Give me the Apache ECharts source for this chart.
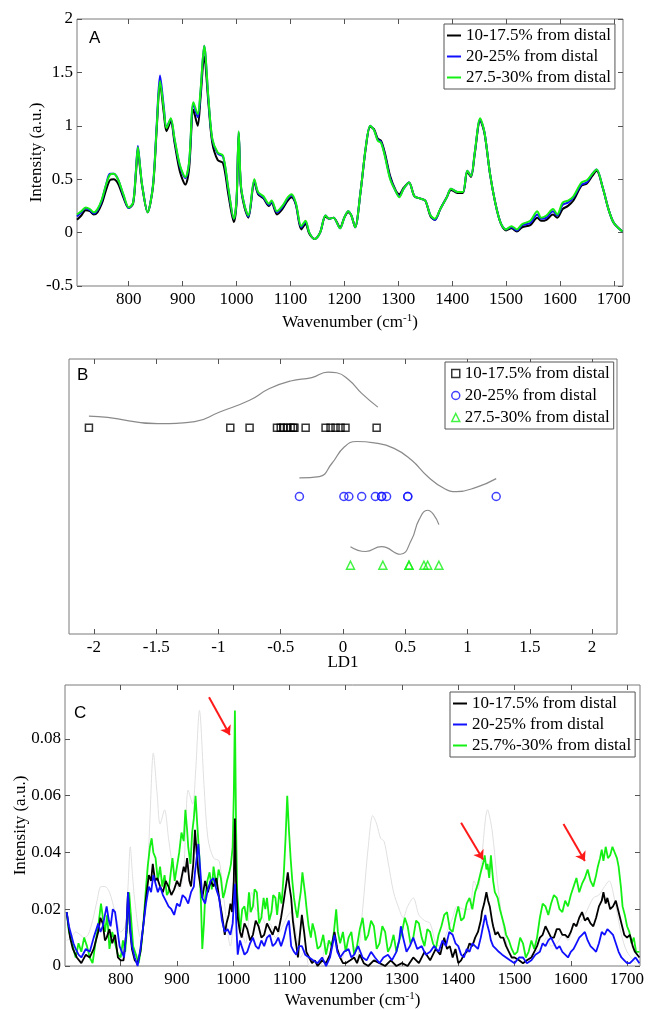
<!DOCTYPE html>
<html><head><meta charset="utf-8">
<script src="https://cdn.jsdelivr.net/npm/echarts@6/dist/echarts.min.js"></script>
<style>html,body{margin:0;padding:0;background:#fff}#c{width:649px;height:1010px}</style>
</head><body><div id="c"></div>
<script>
// ---------- labels ----------
const namesAB = ['10-17.5% from distal', '20-25% from distal', '27.5-30% from distal'];
const namesC = ['10-17.5% from distal', '20-25% from distal', '25.7%-30% from distal'];
const xTicksSpec = [800, 900, 1000, 1100, 1200, 1300, 1400, 1500, 1600, 1700];
const xTicksLD = [-2, -1.5, -1, -0.5, 0, 0.5, 1, 1.5, 2];
const yTicksA = [-0.5, 0, 0.5, 1, 1.5, 2];
const yTicksC = [0, 0.02, 0.04, 0.06, 0.08];

// ---------- Panel A: mean spectra ----------
const wnA = [704,712,720,728,735,742,750,758,765,772,780,790,800,808,813,817,821,825,835,845,852,858,865,870,878,885,895,905,912,920,928,933,940,948,955,965,975,985,995,1000,1004,1008,1015,1022,1033,1040,1050,1060,1065,1075,1085,1095,1102,1110,1120,1128,1135,1145,1155,1165,1172,1180,1192,1200,1207,1213,1220,1230,1240,1248,1255,1262,1268,1275,1285,1295,1302,1310,1320,1330,1340,1350,1360,1368,1378,1390,1398,1410,1420,1428,1435,1442,1452,1460,1470,1480,1490,1500,1510,1520,1530,1545,1558,1565,1575,1587,1595,1605,1615,1625,1640,1650,1660,1668,1680,1690,1700,1716];
const blackA = [0.12,0.16,0.21,0.20,0.17,0.19,0.27,0.40,0.49,0.50,0.46,0.33,0.23,0.27,0.53,0.78,0.60,0.43,0.19,0.43,0.98,1.40,1.12,0.95,1.04,0.84,0.57,0.45,0.60,1.15,1.00,1.25,1.65,1.20,0.84,0.68,0.65,0.35,0.10,0.28,0.93,0.43,0.23,0.14,0.47,0.36,0.32,0.25,0.28,0.17,0.22,0.30,0.33,0.26,0.03,0.08,-0.01,-0.06,0.0,0.15,0.13,0.14,0.05,0.14,0.19,0.16,0.05,0.38,0.80,0.99,0.97,0.88,0.86,0.75,0.53,0.40,0.36,0.42,0.47,0.34,0.32,0.30,0.15,0.12,0.22,0.33,0.40,0.37,0.37,0.57,0.52,0.74,1.05,0.93,0.56,0.28,0.09,0.02,0.04,0.01,0.05,0.07,0.14,0.11,0.12,0.17,0.14,0.22,0.25,0.30,0.44,0.46,0.53,0.58,0.41,0.22,0.09,0.01];
const blueA = [0.15,0.19,0.23,0.21,0.18,0.21,0.30,0.45,0.55,0.55,0.50,0.35,0.23,0.28,0.56,0.81,0.62,0.44,0.19,0.45,1.02,1.47,1.18,0.99,1.06,0.87,0.62,0.51,0.65,1.20,1.08,1.30,1.75,1.24,0.87,0.74,0.71,0.40,0.13,0.30,0.94,0.44,0.25,0.15,0.49,0.37,0.33,0.26,0.29,0.19,0.24,0.32,0.35,0.27,0.05,0.10,0.0,-0.06,0.0,0.16,0.13,0.14,0.04,0.14,0.20,0.16,0.05,0.38,0.81,1.0,0.96,0.87,0.85,0.73,0.51,0.39,0.34,0.41,0.47,0.34,0.32,0.30,0.16,0.12,0.22,0.33,0.41,0.38,0.38,0.58,0.53,0.75,1.06,0.94,0.56,0.28,0.09,0.03,0.05,0.02,0.07,0.09,0.17,0.13,0.14,0.20,0.16,0.26,0.28,0.33,0.45,0.47,0.55,0.59,0.41,0.22,0.09,0.01];
const greenA = [0.17,0.20,0.235,0.22,0.19,0.22,0.31,0.45,0.54,0.55,0.50,0.36,0.235,0.28,0.55,0.80,0.62,0.44,0.19,0.44,1.00,1.42,1.16,0.98,1.07,0.88,0.63,0.52,0.66,1.22,1.11,1.32,1.75,1.25,0.88,0.75,0.72,0.41,0.13,0.31,0.95,0.45,0.25,0.16,0.50,0.38,0.34,0.27,0.30,0.20,0.25,0.33,0.36,0.28,0.06,0.11,0.0,-0.06,0.0,0.16,0.13,0.14,0.04,0.14,0.20,0.16,0.05,0.38,0.81,1.0,0.96,0.86,0.84,0.72,0.50,0.39,0.33,0.41,0.47,0.34,0.32,0.30,0.16,0.13,0.22,0.33,0.41,0.38,0.38,0.58,0.53,0.75,1.07,0.94,0.56,0.28,0.09,0.03,0.06,0.03,0.08,0.11,0.20,0.14,0.16,0.22,0.17,0.28,0.30,0.34,0.47,0.49,0.55,0.59,0.41,0.22,0.09,0.01];

// ---------- Panel B: LD1 scores and density curves ----------
const ld1Black = [-2.04,-0.905,-0.75,-0.53,-0.50,-0.48,-0.45,-0.42,-0.40,-0.39,-0.30,-0.14,-0.10,-0.06,-0.02,0.02,0.27];
const ld1Blue = [-0.35,0.007,0.047,0.15,0.26,0.31,0.31,0.35,0.52,0.52,1.23];
const ld1Green = [0.06,0.32,0.53,0.53,0.65,0.68,0.77];
const rowBlack = 3, rowBlue = 2, rowGreen = 1;
const kdeBlackX = [-2.04,-1.89,-1.49,-1.19,-0.99,-0.75,-0.59,-0.42,-0.25,-0.12,-0.05,0.05,0.15,0.28];
const kdeBlackY = [3.17,3.15,3.06,3.09,3.23,3.40,3.57,3.68,3.73,3.81,3.80,3.69,3.50,3.30];
const kdeBlueX = [-0.35,-0.19,-0.09,0.01,0.11,0.25,0.41,0.55,0.68,0.81,0.91,1.08,1.23];
const kdeBlueY = [2.27,2.29,2.48,2.72,2.80,2.78,2.70,2.53,2.29,2.12,2.07,2.14,2.26];
const kdeGreenX = [0.06,0.18,0.31,0.46,0.55,0.61,0.68,0.73,0.77];
const kdeGreenY = [1.27,1.20,1.27,1.16,1.37,1.66,1.80,1.73,1.59];

// ---------- Panel C: difference spectra (wavenumber, intensity pairs) ----------
const specCgreen = [704,.019,708,.012,712,.0096,716,.006,720,.003,725,.008,730,.005,735,.010,740,.007,745,.003,750,.001,755,.008,760,.014,765,.022,769,.016,772,.012,776,.018,780,.006,785,.012,790,.008,795,.004,800,.003,804,.009,808,.005,812,.015,815,.026,818,.018,822,.007,827,.004,832,.001,836,.006,840,.014,844,.025,848,.035,852,.042,855,.045,858,.040,862,.038,866,.030,870,.035,874,.028,878,.032,882,.025,885,.026,889,.033,892,.038,896,.030,900,.035,904,.040,908,.047,912,.044,915,.055,918,.048,920,.042,924,.036,927,.047,930,.052,933,.060,936,.050,940,.038,943,.020,945,.006,948,.015,950,.024,954,.030,958,.033,962,.027,965,.035,968,.031,970,.028,974,.034,978,.031,982,.024,985,.026,989,.030,993,.033,996,.036,999,.042,1001,.060,1003,.090,1005,.050,1007,.026,1010,.018,1012,.012,1016,.020,1020,.021,1024,.016,1028,.026,1031,.019,1035,.021,1038,.027,1042,.026,1046,.015,1050,.017,1054,.024,1057,.020,1060,.024,1064,.016,1068,.019,1071,.025,1075,.024,1078,.018,1082,.026,1086,.022,1090,.033,1093,.045,1096,.060,1099,.048,1102,.038,1105,.030,1108,.024,1111,.020,1114,.017,1117,.022,1120,.026,1123,.033,1125,.033,1128,.025,1130,.021,1134,.014,1138,.010,1141,.015,1145,.012,1150,.006,1155,.007,1160,.011,1165,.004,1170,.009,1175,.007,1179,.012,1183,.020,1186,.012,1190,.008,1195,.012,1200,.005,1205,.010,1210,.012,1215,.004,1220,.007,1225,.013,1230,.017,1235,.009,1240,.011,1245,.016,1250,.014,1255,.006,1260,.008,1265,.014,1270,.012,1275,.005,1280,.007,1285,.011,1290,.005,1295,.009,1300,.012,1305,.017,1310,.014,1315,.008,1320,.010,1325,.016,1330,.015,1335,.010,1340,.007,1345,.013,1350,.012,1355,.008,1360,.006,1365,.011,1370,.014,1375,.018,1380,.019,1385,.013,1390,.012,1395,.017,1400,.021,1405,.016,1410,.017,1415,.022,1420,.024,1425,.020,1430,.026,1435,.029,1440,.033,1444,.036,1447,.039,1450,.034,1452,.036,1455,.031,1458,.039,1462,.030,1465,.026,1470,.024,1474,.020,1478,.017,1482,.014,1485,.011,1490,.009,1495,.006,1500,.004,1505,.005,1510,.010,1515,.008,1520,.003,1525,.005,1530,.009,1535,.006,1540,.010,1545,.017,1550,.022,1555,.021,1560,.018,1565,.022,1570,.025,1575,.024,1580,.020,1585,.019,1590,.023,1595,.021,1600,.025,1605,.028,1610,.031,1615,.026,1620,.029,1625,.031,1630,.034,1635,.030,1640,.028,1645,.032,1648,.035,1652,.038,1655,.041,1658,.037,1662,.042,1666,.038,1670,.039,1674,.042,1678,.040,1682,.038,1685,.035,1689,.028,1692,.021,1696,.018,1700,.014,1704,.012,1708,.008,1712,.010,1716,.005,1722,.005];
const specCblack = [704,.019,710,.010,715,.006,722,.003,730,.001,738,.004,745,.003,752,.006,760,.012,764,.017,768,.015,772,.009,775,.010,780,.013,785,.008,790,.011,795,.003,800,.002,805,.002,810,.012,813,.026,817,.012,820,.006,825,.002,830,.001,835,.005,840,.014,845,.024,850,.032,854,.030,857,.036,861,.030,865,.031,870,.028,875,.026,880,.030,885,.028,890,.025,895,.027,900,.030,905,.028,909,.032,912,.035,915,.033,918,.038,922,.030,925,.028,929,.036,932,.048,935,.040,938,.033,942,.028,945,.024,950,.030,955,.026,960,.030,965,.028,970,.031,975,.024,980,.018,985,.011,988,.015,992,.018,995,.022,998,.019,1001,.030,1003,.052,1005,.030,1008,.017,1012,.012,1015,.010,1020,.015,1025,.013,1030,.009,1035,.011,1040,.016,1045,.014,1050,.010,1055,.011,1060,.015,1065,.013,1070,.011,1075,.014,1080,.012,1085,.017,1089,.022,1092,.026,1095,.030,1097,.033,1100,.028,1103,.024,1106,.016,1110,.010,1113,.006,1115,.003,1118,.010,1122,.018,1126,.012,1130,.005,1135,.003,1140,.001,1145,.002,1150,.000,1158,.002,1165,.001,1172,.004,1180,.012,1185,.006,1190,.003,1195,.001,1200,.001,1208,.002,1215,.003,1220,.001,1225,.004,1232,.001,1240,.000,1250,.002,1260,.001,1270,.000,1280,.002,1290,.000,1300,.001,1310,.000,1320,.003,1330,.001,1340,.005,1350,.002,1360,.006,1368,.004,1375,.010,1380,.006,1385,.007,1390,.003,1395,.006,1400,.001,1405,.002,1410,.004,1415,.005,1420,.008,1425,.007,1430,.010,1435,.012,1440,.016,1442,.019,1446,.022,1450,.026,1453,.023,1456,.021,1460,.016,1462,.014,1466,.011,1470,.012,1475,.010,1480,.010,1485,.007,1490,.005,1495,.003,1500,.003,1508,.002,1515,.001,1522,.002,1530,.003,1535,.005,1540,.007,1545,.010,1550,.011,1555,.014,1560,.012,1565,.010,1570,.010,1575,.013,1580,.013,1585,.011,1590,.011,1595,.010,1600,.012,1605,.015,1610,.014,1615,.017,1620,.019,1625,.016,1630,.017,1635,.015,1640,.014,1645,.017,1650,.021,1655,.023,1658,.026,1662,.022,1665,.024,1670,.020,1675,.021,1680,.023,1685,.019,1690,.015,1695,.011,1700,.010,1705,.011,1710,.007,1714,.005,1722,.003];
const specCblue = [704,.019,708,.014,712,.011,716,.008,720,.006,725,.004,730,.003,738,.006,745,.005,752,.010,760,.015,764,.012,768,.014,772,.018,775,.021,779,.016,782,.014,786,.020,790,.019,794,.013,798,.007,802,.005,806,.003,810,.012,813,.026,816,.015,820,.007,825,.003,830,.000,835,.006,840,.014,845,.022,850,.028,854,.026,858,.032,862,.029,866,.026,870,.028,875,.025,880,.023,885,.021,890,.020,895,.018,900,.022,905,.021,910,.025,915,.024,920,.022,925,.026,930,.028,932,.033,935,.038,938,.043,941,.035,945,.024,950,.022,955,.027,960,.030,965,.031,970,.027,975,.024,980,.016,985,.012,990,.013,995,.011,999,.015,1003,.029,1006,.012,1008,.004,1012,.009,1015,.007,1020,.004,1025,.005,1030,.008,1035,.010,1040,.007,1045,.006,1050,.009,1055,.007,1060,.010,1065,.011,1070,.007,1075,.008,1080,.010,1085,.007,1090,.010,1095,.014,1099,.016,1103,.007,1108,.005,1112,.004,1117,.007,1122,.007,1128,.004,1135,.003,1142,.002,1150,.001,1158,.003,1165,.000,1172,.003,1180,.011,1185,.005,1190,.003,1197,.005,1205,.006,1210,.003,1215,.004,1222,.007,1230,.003,1237,.002,1245,.005,1252,.003,1260,.001,1267,.003,1275,.004,1282,.002,1290,.005,1295,.009,1298,.014,1302,.010,1308,.005,1314,.007,1320,.010,1327,.006,1335,.007,1342,.004,1350,.005,1357,.007,1365,.005,1372,.009,1378,.007,1384,.012,1390,.011,1395,.008,1400,.007,1405,.004,1410,.003,1415,.006,1420,.005,1425,.008,1430,.007,1435,.006,1440,.010,1444,.014,1448,.018,1451,.015,1455,.012,1458,.009,1462,.007,1467,.006,1472,.005,1478,.004,1485,.003,1492,.002,1500,.001,1508,.003,1515,.003,1522,.001,1530,.002,1537,.004,1545,.005,1550,.008,1555,.007,1560,.009,1565,.010,1570,.008,1575,.006,1580,.007,1585,.005,1590,.004,1595,.003,1600,.005,1605,.006,1610,.008,1615,.010,1620,.011,1625,.012,1630,.009,1635,.007,1640,.006,1645,.005,1650,.008,1655,.012,1660,.011,1665,.013,1670,.012,1675,.011,1680,.008,1685,.005,1690,.003,1695,.002,1700,.001,1705,.001,1710,.002,1715,.003,1722,.001];
const intCgray = [0.009,0.010,0.012,0.011,0.010,0.011,0.016,0.023,0.028,0.028,0.026,0.019,0.012,0.014,0.028,0.042,0.032,0.023,0.010,0.023,0.052,0.075,0.060,0.050,0.055,0.045,0.032,0.027,0.034,0.062,0.057,0.068,0.090,0.064,0.045,0.038,0.037,0.021,0.007,0.016,0.049,0.023,0.013,0.008,0.026,0.020,0.018,0.014,0.015,0.010,0.013,0.017,0.019,0.014,0.003,0.006,0.0,0.0,0.0,0.008,0.007,0.007,0.002,0.007,0.010,0.008,0.003,0.020,0.042,0.053,0.050,0.045,0.044,0.037,0.026,0.020,0.017,0.021,0.024,0.018,0.016,0.015,0.008,0.007,0.011,0.017,0.021,0.020,0.020,0.030,0.027,0.039,0.055,0.048,0.029,0.014,0.005,0.002,0.003,0.002,0.004,0.006,0.010,0.007,0.008,0.011,0.009,0.014,0.015,0.018,0.024,0.025,0.028,0.030,0.021,0.011,0.005,0.001];
const arrowsC = [[957,0.0947,994,0.0814],[1405,0.0505,1444,0.0375],[1587,0.0500,1625,0.0370]];

// ---------- helpers ----------
const zip = (xs, ys) => xs.map((x, i) => [x, ys[i]]);
const pairs = flat => { const out = []; for (let i = 0; i + 1 < flat.length; i += 2) out.push([flat[i], flat[i + 1]]); return out; };
const serif = 'Liberation Serif';
const frame = '#7a7a7a';
const tickCol = '#555555';
const COL = {k: '#000000', b: '#1010ff', g: '#14f014', gray: '#e0e0e0'};
const plain = v => String(Math.round(v * 1000) / 1000);

function mainX(grid, min, max, ticks, name, gap) {
  return {
    type: 'value', gridIndex: grid, min, max, position: 'bottom',
    axisLine: {show: false, onZero: false}, splitLine: {show: false},
    axisTick: {show: true, inside: true, length: 5, customValues: ticks, lineStyle: {color: tickCol, width: 1}},
    axisLabel: {customValues: ticks, margin: 5, color: '#000', fontFamily: serif, fontSize: 17, formatter: plain},
    name, nameLocation: 'middle', nameGap: gap, nameMoveOverlap: false,
    nameTextStyle: {color: '#000', fontFamily: serif, fontSize: 17,
      rich: {sup: {fontSize: 11, fontFamily: serif, color: '#000', verticalAlign: 'top', padding: [0, 0, 8, 0]}}}
  };
}
function mirrorX(grid, min, max, ticks) {
  return {type: 'value', gridIndex: grid, min, max, position: 'top',
    axisLine: {show: false, onZero: false}, splitLine: {show: false}, axisLabel: {show: false},
    axisTick: {show: true, inside: true, length: 5, customValues: ticks, lineStyle: {color: tickCol, width: 1}}};
}
function mainY(grid, min, max, ticks, name, gap) {
  return {
    type: 'value', gridIndex: grid, min, max, position: 'left',
    axisLine: {show: false, onZero: false}, splitLine: {show: false},
    axisTick: {show: true, inside: true, length: 5, customValues: ticks, lineStyle: {color: tickCol, width: 1}},
    axisLabel: {customValues: ticks, margin: 4, color: '#000', fontFamily: serif, fontSize: 17, formatter: plain},
    name, nameLocation: 'middle', nameGap: gap, nameMoveOverlap: false,
    nameTextStyle: {color: '#000', fontFamily: serif, fontSize: 17}
  };
}
function mirrorY(grid, min, max, ticks) {
  return {type: 'value', gridIndex: grid, min, max, position: 'right',
    axisLine: {show: false, onZero: false}, splitLine: {show: false}, axisLabel: {show: false},
    axisTick: {show: true, inside: true, length: 5, customValues: ticks, lineStyle: {color: tickCol, width: 1}}};
}
function lineS(name, xi, yi, data, color, width, smooth, extra) {
  return Object.assign({type: 'line', name, xAxisIndex: xi, yAxisIndex: yi, data,
    symbol: 'none', smooth, animation: false, z: 3,
    lineStyle: {color, width}, itemStyle: {color}}, extra || {});
}
const legendText = {color: '#000', fontFamily: serif, fontSize: 17};

const chart = echarts.init(document.getElementById('c'), null, {renderer: 'canvas'});
const namesMap = {};
['A', 'B', 'C'].forEach(p => [0, 1, 2].forEach(i => {
  namesMap[p + i] = (p === 'C' ? namesC : namesAB)[i];
}));
const fmtLegend = n => namesMap[n];

chart.setOption({
  animation: false,
  backgroundColor: '#fff',
  textStyle: {fontFamily: serif},
  grid: [
    {left: 77, top: 19, width: 546, height: 267, show: true, borderColor: frame, borderWidth: 1},
    {left: 69, top: 359, width: 548, height: 275, show: true, borderColor: frame, borderWidth: 1},
    {left: 65, top: 685, width: 575, height: 282, show: true, borderColor: frame, borderWidth: 1}
  ],
  xAxis: [
    mainX(0, 704, 1717, xTicksSpec, 'Wavenumber (cm{sup|-1})', 27),
    mirrorX(0, 704, 1717, xTicksSpec),
    mainX(1, -2.2, 2.2, xTicksLD, 'LD1', 20),
    mirrorX(1, -2.2, 2.2, xTicksLD),
    mainX(2, 701, 1723, xTicksSpec, 'Wavenumber (cm{sup|-1})', 25),
    mirrorX(2, 701, 1723, xTicksSpec)
  ],
  yAxis: [
    mainY(0, -0.5, 2, yTicksA, 'Intensity (a.u.)', 32),
    mirrorY(0, -0.5, 2, yTicksA),
    {type: 'value', gridIndex: 1, min: 0, max: 4, show: false},
    mainY(2, 0, 0.099, yTicksC, 'Intensity (a.u.)', 36),
    mirrorY(2, 0, 0.099, yTicksC)
  ],
  legend: [
    {left: 444, top: 24, orient: 'vertical', selectedMode: false, data: ['A0', 'A1', 'A2'],
     formatter: fmtLegend, icon: 'rect', itemWidth: 14, itemHeight: 2, itemGap: 4,
     padding: [3, 4, 3, 3], borderColor: '#555', borderWidth: 1, backgroundColor: '#fff', textStyle: legendText},
    {left: 445, top: 362, orient: 'vertical', selectedMode: false,
     data: [
       {name: 'B0', icon: 'rect', itemStyle: {color: 'transparent', borderColor: COL.k, borderWidth: 1.5}},
       {name: 'B1', icon: 'circle', itemStyle: {color: 'transparent', borderColor: COL.b, borderWidth: 1.5}},
       {name: 'B2', icon: 'triangle', itemStyle: {color: 'transparent', borderColor: COL.g, borderWidth: 1.5}}
     ],
     formatter: fmtLegend, itemWidth: 8, itemHeight: 8, itemGap: 5,
     padding: [3, 4, 3, 6], borderColor: '#555', borderWidth: 1, backgroundColor: '#fff', textStyle: legendText},
    {left: 450, top: 692, orient: 'vertical', selectedMode: false, data: ['C0', 'C1', 'C2'],
     formatter: fmtLegend, icon: 'rect', itemWidth: 14, itemHeight: 2, itemGap: 4,
     padding: [3, 4, 3, 3], borderColor: '#555', borderWidth: 1, backgroundColor: '#fff', textStyle: legendText}
  ],
  graphic: [
    {type: 'text', left: 89, top: 30, style: {text: 'A', font: '17px "Liberation Sans"', fill: '#000'}},
    {type: 'text', left: 77, top: 367, style: {text: 'B', font: '17px "Liberation Sans"', fill: '#000'}},
    {type: 'text', left: 74, top: 705, style: {text: 'C', font: '17px "Liberation Sans"', fill: '#000'}}
  ],
  series: [
    // Panel A
    lineS('A0', 0, 0, zip(wnA, blackA), COL.k, 2, 0.3),
    lineS('A1', 0, 0, zip(wnA, blueA), COL.b, 2, 0.3),
    lineS('A2', 0, 0, zip(wnA, greenA), COL.g, 2, 0.3),
    // Panel B density curves
    lineS('kdeK', 2, 2, zip(kdeBlackX, kdeBlackY), '#8a8a8a', 1.2, true),
    lineS('kdeB', 2, 2, zip(kdeBlueX, kdeBlueY), '#8a8a8a', 1.2, true),
    lineS('kdeG', 2, 2, zip(kdeGreenX, kdeGreenY), '#8a8a8a', 1.2, true),
    // Panel B scores
    {type: 'scatter', name: 'B0', xAxisIndex: 2, yAxisIndex: 2, symbol: 'rect', symbolSize: 7,
     data: ld1Black.map(v => [v, rowBlack]), itemStyle: {color: 'transparent', borderColor: COL.k, borderWidth: 1.5}, z: 4},
    {type: 'scatter', name: 'B1', xAxisIndex: 2, yAxisIndex: 2, symbol: 'circle', symbolSize: 8,
     data: ld1Blue.map(v => [v, rowBlue]), itemStyle: {color: 'transparent', borderColor: COL.b, borderWidth: 1.5}, z: 4},
    {type: 'scatter', name: 'B2', xAxisIndex: 2, yAxisIndex: 2, symbol: 'triangle', symbolSize: 8,
     data: ld1Green.map(v => [v, rowGreen]), itemStyle: {color: 'transparent', borderColor: COL.g, borderWidth: 1.5}, z: 4},
    // Panel C
    lineS('grayC', 4, 3, zip(wnA, intCgray), COL.gray, 1, 0.3),
    lineS('C2', 4, 3, pairs(specCgreen), COL.g, 1.8, false, {
      markLine: {silent: true, symbol: ['none', 'arrow'], symbolSize: 9, animation: false,
        lineStyle: {color: '#ff1a1a', width: 2, type: 'solid'}, label: {show: false},
        data: arrowsC.map(a => [{coord: [a[0], a[1]]}, {coord: [a[2], a[3]]}])}
    }),
    lineS('C0', 4, 3, pairs(specCblack), COL.k, 1.8, false),
    lineS('C1', 4, 3, pairs(specCblue), COL.b, 1.8, false)
  ]
});
</script></body></html>
